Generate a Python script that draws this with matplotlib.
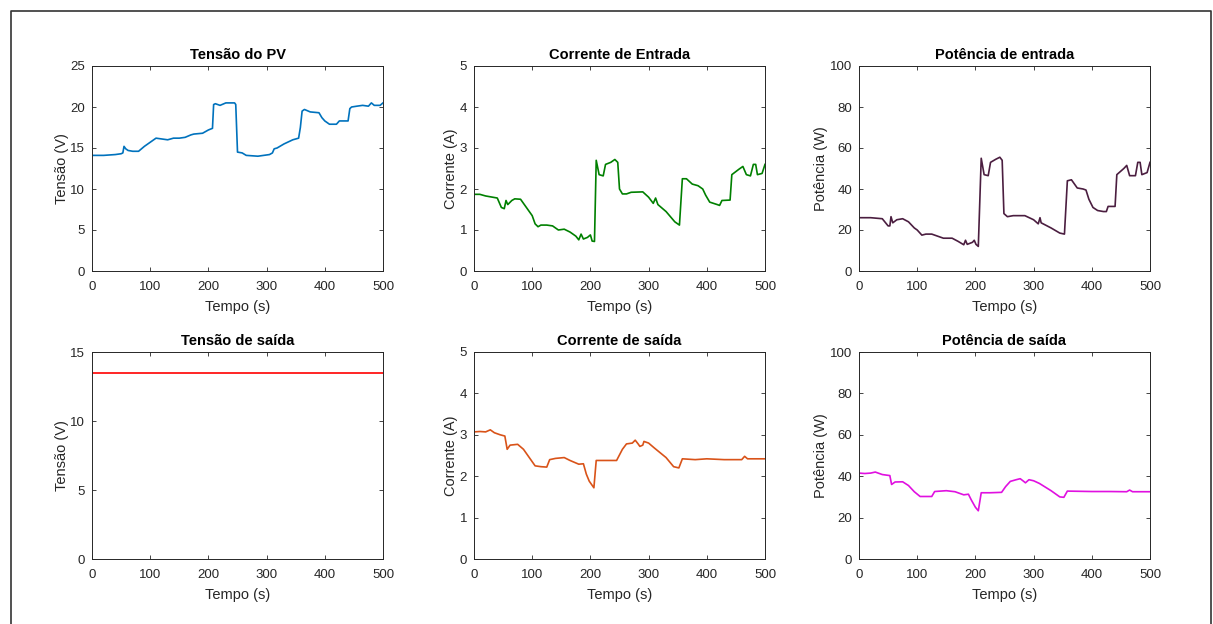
import matplotlib
matplotlib.use('Agg')
import matplotlib.pyplot as plt
from matplotlib.lines import Line2D

plt.rcParams['font.family'] = ['Liberation Sans', 'DejaVu Sans']

# Tensão do PV
t_vpv = [0, 20, 40, 50, 53, 55, 58, 62, 70, 80, 90, 100, 110, 120, 130, 140, 150, 160, 170, 175,
         190, 200, 207, 209, 212, 220, 230, 245, 247, 250, 258, 265, 285, 305, 310, 313, 318, 330,
         345, 355, 358, 361, 365, 375, 390, 395, 400, 408, 420, 425, 428, 440, 443, 446, 455, 465,
         475, 480, 485, 495, 500]
v_pv = [14.1, 14.1, 14.2, 14.3, 14.4, 15.2, 14.9, 14.7, 14.6, 14.6, 15.2, 15.7, 16.2, 16.1, 16.0, 16.2,
        16.2, 16.3, 16.6, 16.7, 16.8, 17.2, 17.4, 20.3, 20.4, 20.2, 20.5, 20.5, 20.3, 14.5, 14.4, 14.1,
        14.0, 14.2, 14.4, 14.9, 15.0, 15.5, 16.0, 16.2, 17.5, 19.5, 19.7, 19.4, 19.3, 18.7, 18.3, 17.9,
        17.9, 18.3, 18.3, 18.3, 19.8, 20.0, 20.1, 20.2, 20.1, 20.5, 20.2, 20.2, 20.5]

# Corrente de entrada
t_iin = [0, 10, 20, 40, 47, 52, 55, 58, 65, 70, 80, 90, 100, 105, 110, 115, 125, 135, 145, 155, 165,
         175, 180, 184, 188, 195, 200, 203, 207, 210, 215, 222, 226, 235, 242, 247, 250, 255, 262, 270,
         290, 300, 308, 312, 316, 330, 345, 353, 358, 365, 375, 385, 393, 398, 405, 418, 422, 426, 440,
         443, 455, 462, 468, 475, 480, 484, 487, 495, 500]
i_in = [1.87, 1.87, 1.83, 1.78, 1.55, 1.52, 1.72, 1.62, 1.72, 1.76, 1.75, 1.55, 1.35, 1.15, 1.08, 1.12,
        1.12, 1.10, 1.00, 1.02, 0.95, 0.85, 0.76, 0.90, 0.78, 0.82, 0.88, 0.73, 0.72, 2.70, 2.35, 2.32,
        2.60, 2.65, 2.72, 2.65, 2.00, 1.88, 1.88, 1.92, 1.93, 1.80, 1.65, 1.78, 1.62, 1.45, 1.20, 1.12,
        2.25, 2.25, 2.12, 2.08, 2.00, 1.85, 1.68, 1.62, 1.60, 1.72, 1.73, 2.35, 2.48, 2.55, 2.35, 2.32,
        2.60, 2.60, 2.35, 2.38, 2.60]

# Potência de entrada
t_pin = [0, 20, 40, 50, 53, 55, 58, 65, 75, 85, 95, 100, 108, 115, 125, 135, 145, 160, 170, 180, 183,
         186, 195, 198, 201, 205, 210, 215, 222, 226, 235, 242, 246, 249, 255, 265, 285, 300, 308, 311,
         313, 330, 345, 353, 358, 365, 375, 385, 390, 395, 402, 410, 420, 425, 428, 440, 443, 455, 460,
         465, 475, 479, 483, 486, 495, 500]
p_in = [26, 26, 25.5, 22, 22, 26.5, 23.5, 25, 25.5, 24, 21, 20, 17.5, 18, 18, 17, 16, 16, 14.5, 12.8,
        15, 13, 14, 15, 13, 12, 55, 47, 46.5, 53, 54.5, 55.5, 54, 28, 26.5, 27, 27, 25, 23, 26, 23.5,
        21, 18.5, 18, 44, 44.5, 40.5, 40, 39.5, 35, 31, 29.5, 29, 29, 31.5, 31.5, 47, 50, 51.5, 46.5,
        46.5, 53, 53, 47, 48, 53]

# Tensão de saída
t_vout = [0, 100, 200, 300, 400, 500]
v_out = [13.5, 13.5, 13.5, 13.5, 13.5, 13.5]

# Corrente de saída
t_iout = [0, 10, 20, 28, 35, 45, 53, 57, 62, 75, 85, 95, 105, 115, 125, 130, 140, 155, 165, 180, 188,
          193, 198, 203, 206, 210, 220, 245, 255, 262, 272, 277, 282, 285, 290, 292, 300, 310, 330, 343,
          352, 358, 380, 400, 430, 460, 465, 470, 490, 500]
i_out = [3.07, 3.08, 3.07, 3.12, 3.05, 3.0, 2.97, 2.65, 2.75, 2.77, 2.65, 2.45, 2.25, 2.23, 2.22, 2.4,
         2.43, 2.45, 2.38, 2.29, 2.3, 2.05, 1.88, 1.78, 1.72, 2.38, 2.38, 2.38, 2.65, 2.78, 2.8, 2.87,
         2.78, 2.72, 2.75, 2.84, 2.8, 2.68, 2.45, 2.23, 2.2, 2.42, 2.4, 2.42, 2.4, 2.4, 2.48, 2.42, 2.42,
         2.42]

# Potência de saída
t_pout = [0, 10, 20, 28, 40, 53, 56, 62, 75, 85, 95, 105, 125, 130, 150, 165, 180, 188, 193, 200, 205,
          210, 225, 245, 252, 260, 270, 277, 283, 286, 292, 300, 310, 330, 345, 352, 358, 400, 430, 460,
          465, 470, 500]
p_out = [41.5, 41.3, 41.5, 42, 40.8, 40.3, 36, 37.2, 37.3, 35.5, 32.5, 30.2, 30.2, 32.6, 33, 32.5, 31,
         31.3, 28.5, 25, 23.3, 32, 32, 32.2, 35, 37.5, 38.3, 38.8, 37.5, 36.8, 38.3, 37.8, 36.5, 33, 30,
         29.8, 32.8, 32.6, 32.6, 32.5, 33.3, 32.5, 32.5]

panels = [
    ('Tensão do PV', t_vpv, v_pv, '#0072BD', 'Tensão (V)', 25, [0, 5, 10, 15, 20, 25]),
    ('Corrente de Entrada', t_iin, i_in, '#008000', 'Corrente (A)', 5, [0, 1, 2, 3, 4, 5]),
    ('Potência de entrada', t_pin, p_in, '#4b1e40', 'Potência (W)', 100, [0, 20, 40, 60, 80, 100]),
    ('Tensão de saída', t_vout, v_out, '#ff0000', 'Tensão (V)', 15, [0, 5, 10, 15]),
    ('Corrente de saída', t_iout, i_out, '#D95319', 'Corrente (A)', 5, [0, 1, 2, 3, 4, 5]),
    ('Potência de saída', t_pout, p_out, '#e010e0', 'Potência (W)', 100, [0, 20, 40, 60, 80, 100]),
]

W, H = 1213, 624
fig = plt.figure(figsize=(W / 100, H / 100), dpi=100)

lefts = [92, 474, 859]
rows = [(66, 271), (352, 559)]
gray = '#262626'

for k, (title, t, y, color, ylabel, ymax, yticks) in enumerate(panels):
    r, c = divmod(k, 3)
    top, bot = rows[r]
    ax = fig.add_axes([lefts[c] / W, 1 - bot / H, 291 / W, (bot - top) / H])
    ax.plot(t, y, color=color, linewidth=1.2)
    ax.set_xlim(0, 500)
    ax.set_ylim(0, ymax)
    ax.set_xticks([0, 100, 200, 300, 400, 500])
    ax.set_yticks(yticks)
    ax.set_title(title, fontsize=10.5, fontweight='bold', pad=5)
    ax.set_xlabel('Tempo (s)', fontsize=10.5, color=gray, labelpad=5)
    ax.set_ylabel(ylabel, fontsize=10.5, color=gray, labelpad=1)
    ax.tick_params(direction='in', top=True, right=True, labelsize=9.5, colors=gray,
                   length=3, width=0.6)
    ax.tick_params(axis='x', pad=7)
    ax.tick_params(axis='y', pad=5)
    for s in ax.spines.values():
        s.set_color(gray)
        s.set_linewidth(0.7)

# outer frame around the figure
x0, x1, y0 = 11 / W, 1211 / W, 1 - 11 / H
fig.add_artist(Line2D([x0, x0, x1, x1], [-0.05, y0, y0, -0.05], color='#333333', linewidth=1.2,
                      transform=fig.transFigure))

fig.savefig('out.png', dpi=100)
